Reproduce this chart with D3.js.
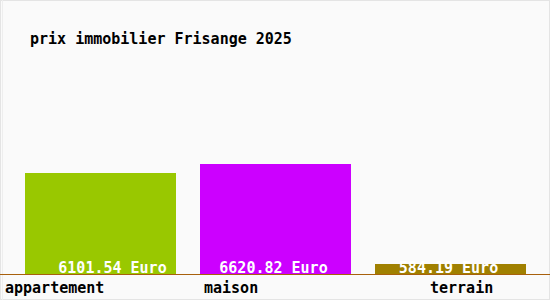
<!DOCTYPE html>
<html><head><meta charset="utf-8">
<script src="https://cdn.jsdelivr.net/npm/d3@7"></script>
<style>body{margin:0;background:#fff}svg{display:block}text{font-family:"DejaVu Sans Mono",monospace;font-size:15px;font-weight:bold}</style>
</head><body>
<script>
const categories = ["appartement", "maison", "terrain"];
const values = [6101.54, 6620.82, 584.19];
const valueLabels = ["6101.54 Euro", "6620.82 Euro", "584.19 Euro"];
const colors = ["#99c800", "#cc00ff", "#a08000"];
const title = "prix immobilier Frisange 2025";

const W = 550, H = 300;
const svg = d3.select("body").append("svg").attr("width", W).attr("height", H);
svg.append("rect").attr("x", 0.5).attr("y", 0.5).attr("width", W - 1).attr("height", H - 1)
  .attr("fill", "#fafafa").attr("stroke", "#e4e4e4");
svg.append("line").attr("x1", 2.5).attr("x2", 2.5).attr("y1", 0).attr("y2", H).attr("stroke", "#eeeeee");

const x = d3.scaleBand().domain(categories).range([25, 526]).paddingInner(48 / 350).paddingOuter(0);
const y = d3.scaleLinear().domain([0, d3.max(values)]).range([274, 164]);

svg.append("text").attr("x", 30).attr("y", 44).attr("fill", "#000").text(title);

svg.selectAll("rect.bar").data(categories).join("rect").attr("class", "bar")
  .attr("x", d => Math.round(x(d)))
  .attr("y", (d, i) => Math.round(y(values[i])))
  .attr("width", Math.round(x.bandwidth()))
  .attr("height", (d, i) => 275 - Math.round(y(values[i])))
  .attr("fill", (d, i) => colors[i]);

svg.append("line").attr("x1", 0).attr("x2", W).attr("y1", 274.5).attr("y2", 274.5).attr("stroke", "#a8600c");

const valOffsets = [12, -2, -2];
svg.selectAll("text.val").data(categories).join("text").attr("class", "val")
  .attr("x", (d, i) => x(d) + x.bandwidth() / 2 + valOffsets[i])
  .attr("y", 273).attr("text-anchor", "middle").attr("fill", "#ffffff")
  .text((d, i) => valueLabels[i]);

const labOffsets = [-20, 4, 55];
svg.selectAll("text.cat").data(categories).join("text").attr("class", "cat")
  .attr("x", (d, i) => x(d) + labOffsets[i])
  .attr("y", 293).attr("fill", "#000")
  .text(d => d);
</script>
</body></html>
